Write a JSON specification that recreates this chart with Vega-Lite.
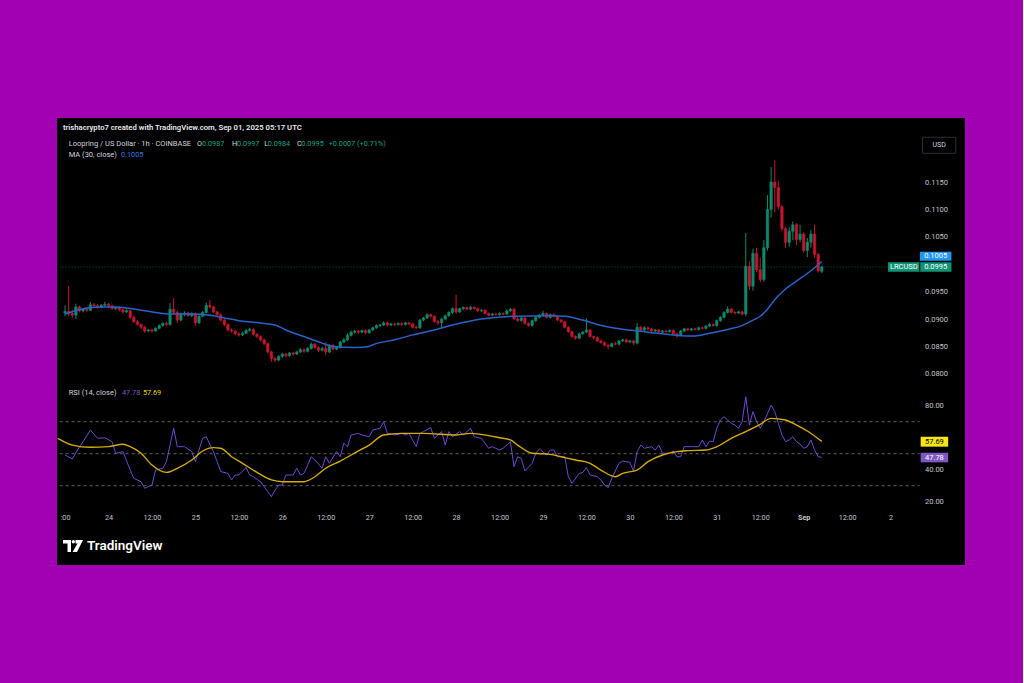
{
"$schema": "https://vega.github.io/schema/vega-lite/v6.json",
"background": "#a100b3",
"padding": {"left": 54, "top": 118, "right": 58, "bottom": 118},
"spacing": 0,
"config": {"view": {"fill": "#000000", "stroke": null}, "font": "Roboto", "scale": {"continuousPadding": 0}},
"datasets": {
"c": [
{"t":-12,"o":0.0911,"h":0.0925,"l":0.0905,"c":0.0914},
{"t":-11,"o":0.0914,"h":0.0960,"l":0.0905,"c":0.0910},
{"t":-10,"o":0.0910,"h":0.0916,"l":0.0902,"c":0.0907},
{"t":-9,"o":0.0907,"h":0.0928,"l":0.0900,"c":0.0922},
{"t":-8,"o":0.0922,"h":0.0924,"l":0.0912,"c":0.0915},
{"t":-7,"o":0.0915,"h":0.0920,"l":0.0912,"c":0.0918},
{"t":-6,"o":0.0918,"h":0.0921,"l":0.0913,"c":0.0916},
{"t":-5,"o":0.0916,"h":0.0931,"l":0.0915,"c":0.0926},
{"t":-4,"o":0.0926,"h":0.0929,"l":0.0921,"c":0.0924},
{"t":-3,"o":0.0924,"h":0.0927,"l":0.0919,"c":0.0922},
{"t":-2,"o":0.0922,"h":0.0927,"l":0.0920,"c":0.0925},
{"t":-1,"o":0.0925,"h":0.0931,"l":0.0922,"c":0.0927},
{"t":0,"o":0.0927,"h":0.0929,"l":0.0921,"c":0.0924},
{"t":1,"o":0.0924,"h":0.0926,"l":0.0917,"c":0.0919},
{"t":2,"o":0.0919,"h":0.0923,"l":0.0916,"c":0.0921},
{"t":3,"o":0.0921,"h":0.0923,"l":0.0914,"c":0.0917},
{"t":4,"o":0.0917,"h":0.0919,"l":0.0910,"c":0.0913},
{"t":5,"o":0.0913,"h":0.0918,"l":0.0911,"c":0.0915},
{"t":6,"o":0.0915,"h":0.0917,"l":0.0900,"c":0.0903},
{"t":7,"o":0.0903,"h":0.0905,"l":0.0893,"c":0.0895},
{"t":8,"o":0.0895,"h":0.0898,"l":0.0888,"c":0.0890},
{"t":9,"o":0.0890,"h":0.0892,"l":0.0882,"c":0.0885},
{"t":10,"o":0.0885,"h":0.0887,"l":0.0875,"c":0.0878},
{"t":11,"o":0.0878,"h":0.0882,"l":0.0876,"c":0.0880},
{"t":12,"o":0.0880,"h":0.0882,"l":0.0875,"c":0.0878},
{"t":13,"o":0.0878,"h":0.0885,"l":0.0877,"c":0.0883},
{"t":14,"o":0.0883,"h":0.0890,"l":0.0881,"c":0.0888},
{"t":15,"o":0.0888,"h":0.0894,"l":0.0886,"c":0.0892},
{"t":16,"o":0.0892,"h":0.0895,"l":0.0887,"c":0.0890},
{"t":17,"o":0.0890,"h":0.0929,"l":0.0888,"c":0.0918},
{"t":18,"o":0.0918,"h":0.0938,"l":0.0908,"c":0.0912},
{"t":19,"o":0.0912,"h":0.0915,"l":0.0893,"c":0.0898},
{"t":20,"o":0.0898,"h":0.0912,"l":0.0896,"c":0.0909},
{"t":21,"o":0.0909,"h":0.0914,"l":0.0905,"c":0.0911},
{"t":22,"o":0.0911,"h":0.0913,"l":0.0904,"c":0.0906},
{"t":23,"o":0.0906,"h":0.0912,"l":0.0903,"c":0.0910},
{"t":24,"o":0.0910,"h":0.0912,"l":0.0888,"c":0.0893},
{"t":25,"o":0.0893,"h":0.0907,"l":0.0891,"c":0.0905},
{"t":26,"o":0.0905,"h":0.0914,"l":0.0903,"c":0.0912},
{"t":27,"o":0.0912,"h":0.0930,"l":0.0910,"c":0.0925},
{"t":28,"o":0.0925,"h":0.0935,"l":0.0919,"c":0.0922},
{"t":29,"o":0.0922,"h":0.0924,"l":0.0911,"c":0.0913},
{"t":30,"o":0.0913,"h":0.0915,"l":0.0905,"c":0.0908},
{"t":31,"o":0.0908,"h":0.0910,"l":0.0896,"c":0.0898},
{"t":32,"o":0.0898,"h":0.0900,"l":0.0887,"c":0.0890},
{"t":33,"o":0.0890,"h":0.0892,"l":0.0877,"c":0.0880},
{"t":34,"o":0.0880,"h":0.0883,"l":0.0875,"c":0.0878},
{"t":35,"o":0.0878,"h":0.0880,"l":0.0870,"c":0.0873},
{"t":36,"o":0.0873,"h":0.0876,"l":0.0868,"c":0.0871},
{"t":37,"o":0.0871,"h":0.0877,"l":0.0869,"c":0.0874},
{"t":38,"o":0.0874,"h":0.0882,"l":0.0872,"c":0.0879},
{"t":39,"o":0.0879,"h":0.0884,"l":0.0877,"c":0.0881},
{"t":40,"o":0.0881,"h":0.0883,"l":0.0870,"c":0.0872},
{"t":41,"o":0.0872,"h":0.0874,"l":0.0865,"c":0.0868},
{"t":42,"o":0.0868,"h":0.0870,"l":0.0859,"c":0.0862},
{"t":43,"o":0.0862,"h":0.0864,"l":0.0852,"c":0.0855},
{"t":44,"o":0.0855,"h":0.0857,"l":0.0837,"c":0.0840},
{"t":45,"o":0.0840,"h":0.0842,"l":0.0822,"c":0.0828},
{"t":46,"o":0.0828,"h":0.0831,"l":0.0821,"c":0.0825},
{"t":47,"o":0.0825,"h":0.0834,"l":0.0823,"c":0.0832},
{"t":48,"o":0.0832,"h":0.0838,"l":0.0829,"c":0.0836},
{"t":49,"o":0.0836,"h":0.0838,"l":0.0830,"c":0.0833},
{"t":50,"o":0.0833,"h":0.0840,"l":0.0831,"c":0.0838},
{"t":51,"o":0.0838,"h":0.0840,"l":0.0833,"c":0.0836},
{"t":52,"o":0.0836,"h":0.0842,"l":0.0834,"c":0.0840},
{"t":53,"o":0.0840,"h":0.0847,"l":0.0838,"c":0.0844},
{"t":54,"o":0.0844,"h":0.0846,"l":0.0838,"c":0.0841},
{"t":55,"o":0.0841,"h":0.0849,"l":0.0839,"c":0.0846},
{"t":56,"o":0.0846,"h":0.0857,"l":0.0844,"c":0.0854},
{"t":57,"o":0.0854,"h":0.0856,"l":0.0846,"c":0.0848},
{"t":58,"o":0.0848,"h":0.0850,"l":0.0840,"c":0.0843},
{"t":59,"o":0.0843,"h":0.0849,"l":0.0841,"c":0.0846},
{"t":60,"o":0.0846,"h":0.0858,"l":0.0834,"c":0.0840},
{"t":61,"o":0.0840,"h":0.0854,"l":0.0838,"c":0.0852},
{"t":62,"o":0.0852,"h":0.0854,"l":0.0843,"c":0.0845},
{"t":63,"o":0.0845,"h":0.0851,"l":0.0843,"c":0.0848},
{"t":64,"o":0.0848,"h":0.0860,"l":0.0846,"c":0.0858},
{"t":65,"o":0.0858,"h":0.0865,"l":0.0856,"c":0.0862},
{"t":66,"o":0.0862,"h":0.0874,"l":0.0860,"c":0.0870},
{"t":67,"o":0.0870,"h":0.0879,"l":0.0868,"c":0.0876},
{"t":68,"o":0.0876,"h":0.0880,"l":0.0873,"c":0.0878},
{"t":69,"o":0.0878,"h":0.0880,"l":0.0873,"c":0.0876},
{"t":70,"o":0.0876,"h":0.0881,"l":0.0874,"c":0.0879},
{"t":71,"o":0.0879,"h":0.0881,"l":0.0872,"c":0.0875},
{"t":72,"o":0.0875,"h":0.0882,"l":0.0873,"c":0.0880},
{"t":73,"o":0.0880,"h":0.0886,"l":0.0878,"c":0.0884},
{"t":74,"o":0.0884,"h":0.0890,"l":0.0882,"c":0.0888},
{"t":75,"o":0.0888,"h":0.0891,"l":0.0885,"c":0.0889},
{"t":76,"o":0.0889,"h":0.0896,"l":0.0887,"c":0.0893},
{"t":77,"o":0.0893,"h":0.0895,"l":0.0886,"c":0.0889},
{"t":78,"o":0.0889,"h":0.0893,"l":0.0887,"c":0.0891},
{"t":79,"o":0.0891,"h":0.0893,"l":0.0887,"c":0.0890},
{"t":80,"o":0.0890,"h":0.0894,"l":0.0888,"c":0.0892},
{"t":81,"o":0.0892,"h":0.0894,"l":0.0887,"c":0.0890},
{"t":82,"o":0.0890,"h":0.0895,"l":0.0888,"c":0.0893},
{"t":83,"o":0.0893,"h":0.0895,"l":0.0889,"c":0.0891},
{"t":84,"o":0.0891,"h":0.0893,"l":0.0883,"c":0.0885},
{"t":85,"o":0.0885,"h":0.0888,"l":0.0882,"c":0.0884},
{"t":86,"o":0.0884,"h":0.0900,"l":0.0882,"c":0.0898},
{"t":87,"o":0.0898,"h":0.0904,"l":0.0896,"c":0.0902},
{"t":88,"o":0.0902,"h":0.0910,"l":0.0900,"c":0.0908},
{"t":89,"o":0.0908,"h":0.0910,"l":0.0903,"c":0.0905},
{"t":90,"o":0.0905,"h":0.0907,"l":0.0893,"c":0.0895},
{"t":91,"o":0.0895,"h":0.0898,"l":0.0889,"c":0.0893},
{"t":92,"o":0.0893,"h":0.0902,"l":0.0883,"c":0.0900},
{"t":93,"o":0.0900,"h":0.0908,"l":0.0898,"c":0.0906},
{"t":94,"o":0.0906,"h":0.0914,"l":0.0904,"c":0.0912},
{"t":95,"o":0.0912,"h":0.0921,"l":0.0909,"c":0.0919},
{"t":96,"o":0.0919,"h":0.0944,"l":0.0910,"c":0.0913},
{"t":97,"o":0.0913,"h":0.0921,"l":0.0911,"c":0.0919},
{"t":98,"o":0.0919,"h":0.0923,"l":0.0916,"c":0.0921},
{"t":99,"o":0.0921,"h":0.0923,"l":0.0916,"c":0.0918},
{"t":100,"o":0.0918,"h":0.0924,"l":0.0916,"c":0.0921},
{"t":101,"o":0.0921,"h":0.0923,"l":0.0917,"c":0.0919},
{"t":102,"o":0.0919,"h":0.0921,"l":0.0913,"c":0.0915},
{"t":103,"o":0.0915,"h":0.0918,"l":0.0913,"c":0.0916},
{"t":104,"o":0.0916,"h":0.0918,"l":0.0908,"c":0.0910},
{"t":105,"o":0.0910,"h":0.0912,"l":0.0905,"c":0.0907},
{"t":106,"o":0.0907,"h":0.0911,"l":0.0905,"c":0.0909},
{"t":107,"o":0.0909,"h":0.0911,"l":0.0906,"c":0.0908},
{"t":108,"o":0.0908,"h":0.0912,"l":0.0906,"c":0.0910},
{"t":109,"o":0.0910,"h":0.0912,"l":0.0907,"c":0.0909},
{"t":110,"o":0.0909,"h":0.0917,"l":0.0907,"c":0.0915},
{"t":111,"o":0.0915,"h":0.0920,"l":0.0913,"c":0.0918},
{"t":112,"o":0.0918,"h":0.0920,"l":0.0898,"c":0.0900},
{"t":113,"o":0.0900,"h":0.0903,"l":0.0895,"c":0.0897},
{"t":114,"o":0.0897,"h":0.0904,"l":0.0895,"c":0.0902},
{"t":115,"o":0.0902,"h":0.0904,"l":0.0890,"c":0.0892},
{"t":116,"o":0.0892,"h":0.0894,"l":0.0886,"c":0.0888},
{"t":117,"o":0.0888,"h":0.0899,"l":0.0886,"c":0.0897},
{"t":118,"o":0.0897,"h":0.0905,"l":0.0895,"c":0.0903},
{"t":119,"o":0.0903,"h":0.0909,"l":0.0901,"c":0.0907},
{"t":120,"o":0.0907,"h":0.0915,"l":0.0905,"c":0.0910},
{"t":121,"o":0.0910,"h":0.0912,"l":0.0901,"c":0.0903},
{"t":122,"o":0.0903,"h":0.0910,"l":0.0901,"c":0.0908},
{"t":123,"o":0.0908,"h":0.0910,"l":0.0903,"c":0.0905},
{"t":124,"o":0.0905,"h":0.0907,"l":0.0896,"c":0.0898},
{"t":125,"o":0.0898,"h":0.0900,"l":0.0893,"c":0.0895},
{"t":126,"o":0.0895,"h":0.0897,"l":0.0883,"c":0.0885},
{"t":127,"o":0.0885,"h":0.0887,"l":0.0875,"c":0.0877},
{"t":128,"o":0.0877,"h":0.0879,"l":0.0866,"c":0.0868},
{"t":129,"o":0.0868,"h":0.0870,"l":0.0862,"c":0.0865},
{"t":130,"o":0.0865,"h":0.0875,"l":0.0863,"c":0.0873},
{"t":131,"o":0.0873,"h":0.0878,"l":0.0871,"c":0.0876},
{"t":132,"o":0.0876,"h":0.0901,"l":0.0874,"c":0.0880},
{"t":133,"o":0.0880,"h":0.0882,"l":0.0866,"c":0.0868},
{"t":134,"o":0.0868,"h":0.0870,"l":0.0863,"c":0.0866},
{"t":135,"o":0.0866,"h":0.0868,"l":0.0858,"c":0.0860},
{"t":136,"o":0.0860,"h":0.0862,"l":0.0855,"c":0.0857},
{"t":137,"o":0.0857,"h":0.0859,"l":0.0850,"c":0.0852},
{"t":138,"o":0.0852,"h":0.0854,"l":0.0845,"c":0.0850},
{"t":139,"o":0.0850,"h":0.0857,"l":0.0848,"c":0.0855},
{"t":140,"o":0.0855,"h":0.0858,"l":0.0852,"c":0.0854},
{"t":141,"o":0.0854,"h":0.0862,"l":0.0852,"c":0.0860},
{"t":142,"o":0.0860,"h":0.0864,"l":0.0858,"c":0.0862},
{"t":143,"o":0.0862,"h":0.0864,"l":0.0856,"c":0.0858},
{"t":144,"o":0.0858,"h":0.0862,"l":0.0856,"c":0.0860},
{"t":145,"o":0.0860,"h":0.0862,"l":0.0853,"c":0.0856},
{"t":146,"o":0.0856,"h":0.0893,"l":0.0854,"c":0.0885},
{"t":147,"o":0.0885,"h":0.0888,"l":0.0878,"c":0.0880},
{"t":148,"o":0.0880,"h":0.0887,"l":0.0878,"c":0.0884},
{"t":149,"o":0.0884,"h":0.0886,"l":0.0879,"c":0.0882},
{"t":150,"o":0.0882,"h":0.0884,"l":0.0876,"c":0.0878},
{"t":151,"o":0.0878,"h":0.0882,"l":0.0876,"c":0.0880},
{"t":152,"o":0.0880,"h":0.0882,"l":0.0874,"c":0.0876},
{"t":153,"o":0.0876,"h":0.0880,"l":0.0874,"c":0.0878},
{"t":154,"o":0.0878,"h":0.0880,"l":0.0875,"c":0.0877},
{"t":155,"o":0.0877,"h":0.0881,"l":0.0875,"c":0.0879},
{"t":156,"o":0.0879,"h":0.0881,"l":0.0871,"c":0.0873},
{"t":157,"o":0.0873,"h":0.0875,"l":0.0866,"c":0.0871},
{"t":158,"o":0.0871,"h":0.0880,"l":0.0869,"c":0.0878},
{"t":159,"o":0.0878,"h":0.0884,"l":0.0876,"c":0.0882},
{"t":160,"o":0.0882,"h":0.0884,"l":0.0878,"c":0.0880},
{"t":161,"o":0.0880,"h":0.0884,"l":0.0878,"c":0.0882},
{"t":162,"o":0.0882,"h":0.0884,"l":0.0879,"c":0.0881},
{"t":163,"o":0.0881,"h":0.0886,"l":0.0879,"c":0.0884},
{"t":164,"o":0.0884,"h":0.0886,"l":0.0881,"c":0.0883},
{"t":165,"o":0.0883,"h":0.0889,"l":0.0881,"c":0.0887},
{"t":166,"o":0.0887,"h":0.0893,"l":0.0885,"c":0.0890},
{"t":167,"o":0.0890,"h":0.0892,"l":0.0886,"c":0.0888},
{"t":168,"o":0.0888,"h":0.0899,"l":0.0886,"c":0.0897},
{"t":169,"o":0.0897,"h":0.0905,"l":0.0895,"c":0.0903},
{"t":170,"o":0.0903,"h":0.0914,"l":0.0901,"c":0.0912},
{"t":171,"o":0.0912,"h":0.0923,"l":0.0910,"c":0.0918},
{"t":172,"o":0.0918,"h":0.0920,"l":0.0910,"c":0.0912},
{"t":173,"o":0.0912,"h":0.0914,"l":0.0908,"c":0.0911},
{"t":174,"o":0.0911,"h":0.0915,"l":0.0909,"c":0.0913},
{"t":175,"o":0.0913,"h":0.0915,"l":0.0907,"c":0.0909},
{"t":176,"o":0.0909,"h":0.1057,"l":0.0905,"c":0.0996},
{"t":177,"o":0.0996,"h":0.1005,"l":0.0953,"c":0.0960},
{"t":178,"o":0.0960,"h":0.1028,"l":0.0952,"c":0.1020},
{"t":179,"o":0.1020,"h":0.1030,"l":0.0985,"c":0.0990},
{"t":180,"o":0.0990,"h":0.1012,"l":0.0967,"c":0.0972},
{"t":181,"o":0.0972,"h":0.1044,"l":0.0968,"c":0.1030},
{"t":182,"o":0.1030,"h":0.1126,"l":0.1025,"c":0.1100},
{"t":183,"o":0.1100,"h":0.1177,"l":0.1085,"c":0.1150},
{"t":184,"o":0.1150,"h":0.1190,"l":0.1095,"c":0.1140},
{"t":185,"o":0.1140,"h":0.1152,"l":0.1100,"c":0.1105},
{"t":186,"o":0.1105,"h":0.1108,"l":0.1060,"c":0.1065},
{"t":187,"o":0.1065,"h":0.1068,"l":0.1030,"c":0.1040},
{"t":188,"o":0.1040,"h":0.1068,"l":0.1032,"c":0.1060},
{"t":189,"o":0.1060,"h":0.1078,"l":0.1044,"c":0.1072},
{"t":190,"o":0.1072,"h":0.1075,"l":0.1035,"c":0.1045},
{"t":191,"o":0.1045,"h":0.1072,"l":0.1040,"c":0.1055},
{"t":192,"o":0.1055,"h":0.1058,"l":0.1021,"c":0.1025},
{"t":193,"o":0.1025,"h":0.1048,"l":0.1013,"c":0.1040},
{"t":194,"o":0.1040,"h":0.1062,"l":0.1030,"c":0.1055},
{"t":195,"o":0.1055,"h":0.1072,"l":0.1012,"c":0.1018},
{"t":196,"o":0.1018,"h":0.1020,"l":0.0985,"c":0.0988},
{"t":197,"o":0.0987,"h":0.0997,"l":0.0984,"c":0.0995}
],
"ma": [
{"t":-12,"v":0.0909},{"t":-5,"v":0.0921},{"t":-1,"v":0.0922},{"t":2,"v":0.0922},{"t":6,"v":0.0919},{"t":10,"v":0.0915},{"t":13,"v":0.0912},{"t":17,"v":0.0909},{"t":22,"v":0.0909},{"t":28,"v":0.0907},{"t":32,"v":0.0902},{"t":36,"v":0.0897},{"t":40,"v":0.0894},{"t":46,"v":0.0889},{"t":49,"v":0.0880},{"t":54,"v":0.0868},{"t":59,"v":0.0856},{"t":62,"v":0.0850},{"t":68,"v":0.0848},{"t":72,"v":0.0850},{"t":73,"v":0.0853},{"t":79,"v":0.0862},{"t":84,"v":0.0871},{"t":90,"v":0.0880},{"t":95,"v":0.0889},{"t":103,"v":0.0900},{"t":112,"v":0.0905},{"t":122,"v":0.0906},{"t":126,"v":0.0905},{"t":131,"v":0.0898},{"t":135,"v":0.0890},{"t":140,"v":0.0883},{"t":145,"v":0.0879},{"t":149,"v":0.0876},{"t":157,"v":0.0870},{"t":162,"v":0.0869},{"t":166,"v":0.0874},{"t":171,"v":0.0881},{"t":175,"v":0.0888},{"t":178,"v":0.0898},{"t":180,"v":0.0905},{"t":182,"v":0.0918},{"t":184,"v":0.0935},{"t":186.5,"v":0.0952},{"t":190,"v":0.0969},{"t":194,"v":0.0988},{"t":197,"v":0.1005}
],
"rsi": [
{"t":-12,"v":49.2},{"t":-10,"v":46.7},{"t":-8,"v":54.4},{"t":-7,"v":57.5},{"t":-5,"v":64.8},{"t":-3,"v":59.6},{"t":-1,"v":60.0},{"t":1,"v":57.5},{"t":2,"v":50.2},{"t":4,"v":51.3},{"t":6,"v":39.8},{"t":7,"v":34.6},{"t":9,"v":32.5},{"t":10,"v":28.4},{"t":12,"v":30.4},{"t":13,"v":39.8},{"t":15,"v":40.9},{"t":16,"v":45.0},{"t":18,"v":65.9},{"t":19,"v":54.4},{"t":21,"v":54.4},{"t":23,"v":51.3},{"t":24,"v":45.0},{"t":25,"v":52.3},{"t":26,"v":59.6},{"t":27,"v":60.6},{"t":29,"v":51.3},{"t":30,"v":45.0},{"t":31,"v":38.8},{"t":33,"v":37.7},{"t":34,"v":33.6},{"t":35,"v":36.7},{"t":36,"v":36.7},{"t":38,"v":41.3},{"t":39,"v":36.7},{"t":40,"v":35.6},{"t":42,"v":32.5},{"t":44,"v":26.3},{"t":45,"v":23.1},{"t":46,"v":27.3},{"t":47,"v":30.4},{"t":48,"v":30.4},{"t":49,"v":36.7},{"t":51,"v":36.7},{"t":52,"v":40.9},{"t":53,"v":36.7},{"t":54,"v":37.7},{"t":56,"v":48.1},{"t":57,"v":46.1},{"t":59,"v":40.9},{"t":60,"v":48.1},{"t":61,"v":44.0},{"t":63,"v":51.3},{"t":64,"v":48.1},{"t":65,"v":56.5},{"t":66,"v":54.4},{"t":67,"v":61.7},{"t":69,"v":62.7},{"t":70,"v":61.7},{"t":72,"v":60.6},{"t":73,"v":64.8},{"t":75,"v":65.9},{"t":76,"v":70.0},{"t":77,"v":62.7},{"t":79,"v":61.7},{"t":81,"v":62.7},{"t":82,"v":61.7},{"t":83,"v":62.7},{"t":85,"v":54.4},{"t":86,"v":62.7},{"t":87,"v":63.8},{"t":89,"v":66.3},{"t":90,"v":59.6},{"t":92,"v":63.8},{"t":93,"v":55.4},{"t":94,"v":63.8},{"t":95,"v":60.6},{"t":97,"v":63.8},{"t":98,"v":61.7},{"t":100,"v":65.9},{"t":101,"v":60.6},{"t":103,"v":59.6},{"t":105,"v":53.4},{"t":106,"v":54.4},{"t":108,"v":52.3},{"t":109,"v":53.4},{"t":111,"v":57.5},{"t":112,"v":41.9},{"t":113,"v":48.1},{"t":114,"v":47.1},{"t":115,"v":39.2},{"t":117,"v":44.0},{"t":118,"v":50.3},{"t":119,"v":53.0},{"t":121,"v":49.2},{"t":122,"v":52.3},{"t":123,"v":52.3},{"t":124,"v":48.1},{"t":126,"v":48.1},{"t":127,"v":35.6},{"t":128,"v":31.5},{"t":130,"v":37.7},{"t":131,"v":38.3},{"t":132,"v":41.3},{"t":133,"v":36.7},{"t":135,"v":35.6},{"t":136,"v":33.6},{"t":137,"v":30.4},{"t":138,"v":28.8},{"t":139,"v":34.6},{"t":141,"v":44.0},{"t":142,"v":45.4},{"t":144,"v":44.6},{"t":145,"v":39.2},{"t":146,"v":51.3},{"t":147,"v":55.4},{"t":148,"v":53.4},{"t":150,"v":54.4},{"t":151,"v":52.3},{"t":152,"v":55.4},{"t":153,"v":50.3},{"t":155,"v":50.3},{"t":156,"v":51.7},{"t":157,"v":48.1},{"t":158,"v":48.1},{"t":159,"v":54.4},{"t":161,"v":54.4},{"t":163,"v":54.4},{"t":164,"v":58.6},{"t":165,"v":54.4},{"t":166,"v":57.9},{"t":167,"v":57.5},{"t":168,"v":65.9},{"t":169,"v":71.1},{"t":170,"v":73.1},{"t":172,"v":69.0},{"t":173,"v":67.9},{"t":174,"v":65.9},{"t":175,"v":70.0},{"t":176,"v":85.6},{"t":177,"v":67.9},{"t":178,"v":76.3},{"t":179,"v":70.0},{"t":180,"v":65.9},{"t":181,"v":70.0},{"t":182,"v":75.0},{"t":183,"v":80.4},{"t":184,"v":76.3},{"t":185,"v":69.0},{"t":186,"v":61.7},{"t":187,"v":57.5},{"t":188,"v":58.6},{"t":189,"v":60.6},{"t":190,"v":57.5},{"t":191,"v":56.0},{"t":192,"v":53.4},{"t":193,"v":54.4},{"t":194,"v":58.6},{"t":195,"v":52.3},{"t":196,"v":48.1},{"t":197,"v":47.78}
],
"rsima": [
{"t":-14,"v":59.6},{"t":-10,"v":55.4},{"t":-5,"v":54.0},{"t":0,"v":54.4},{"t":4,"v":55.9},{"t":6,"v":54.4},{"t":9,"v":50.3},{"t":12,"v":42.9},{"t":16,"v":38.3},{"t":19,"v":40.9},{"t":23,"v":46.1},{"t":26,"v":51.7},{"t":29,"v":53.8},{"t":31,"v":53.4},{"t":34,"v":48.1},{"t":37,"v":44.0},{"t":41,"v":38.3},{"t":45,"v":33.6},{"t":48,"v":32.5},{"t":54,"v":32.5},{"t":57,"v":35.6},{"t":60,"v":40.9},{"t":64,"v":45.4},{"t":69,"v":51.7},{"t":72,"v":55.4},{"t":76,"v":61.7},{"t":81,"v":62.7},{"t":87,"v":62.7},{"t":96,"v":61.7},{"t":100,"v":62.7},{"t":105,"v":61.3},{"t":108,"v":60.0},{"t":111,"v":58.6},{"t":113,"v":55.4},{"t":117,"v":50.3},{"t":122,"v":49.6},{"t":125,"v":48.1},{"t":129,"v":46.1},{"t":133,"v":44.0},{"t":136,"v":39.8},{"t":140,"v":35.6},{"t":142,"v":37.7},{"t":146,"v":39.8},{"t":149,"v":45.0},{"t":153,"v":49.2},{"t":157,"v":51.3},{"t":160,"v":51.9},{"t":165,"v":52.3},{"t":168,"v":54.4},{"t":172,"v":59.6},{"t":176,"v":63.8},{"t":180,"v":68.4},{"t":183,"v":72.1},{"t":187,"v":71.1},{"t":190,"v":67.9},{"t":193,"v":64.2},{"t":197,"v":57.69}
]
},
"vconcat": [
{
"width": 908, "height": 267,
"layer": [
{"data": {"name": "c"}, "mark": {"type": "rule", "strokeWidth": 1},
 "encoding": {
  "x": {"field": "t", "type": "quantitative", "scale": {"domain": [-14.22, 236.55], "nice": false, "zero": false, "padding": 0}, "axis": null},
  "y": {"field": "l", "type": "quantitative", "scale": {"domain": [0.077956, 0.12668], "nice": false, "zero": false},
        "axis": {"orient": "right", "offset": -48, "values": [0.08, 0.085, 0.09, 0.095, 0.105, 0.11, 0.115], "format": ".4f", "domain": false, "ticks": false, "grid": false, "labelPadding": 7.5, "labelColor": "#c3c6cd", "labelFontSize": 7.5, "labelFont": "Roboto", "title": null, "labelOverlap": false, "zindex": 1}},
  "y2": {"field": "h"},
  "color": {"condition": {"test": "datum.c >= datum.o", "value": "#0e8a6c"}, "value": "#c81631"}
 }},
{"data": {"name": "c"}, "mark": {"type": "bar", "size": 2.4, "strokeWidth": 0.6},
 "encoding": {
  "x": {"field": "t", "type": "quantitative", "scale": {"domain": [-14.22, 236.55], "nice": false, "zero": false, "padding": 0}, "axis": null},
  "y": {"field": "o", "type": "quantitative", "scale": {"domain": [0.077956, 0.12668], "nice": false, "zero": false}},
  "y2": {"field": "c"},
  "color": {"condition": {"test": "datum.c >= datum.o", "value": "#0e8a6c"}, "value": "#c81631"},
  "stroke": {"condition": {"test": "datum.c >= datum.o", "value": "#0e8a6c"}, "value": "#c81631"}
 }},
{"data": {"name": "ma"}, "mark": {"type": "line", "color": "#2a62c9", "strokeWidth": 1.5, "interpolate": "monotone"},
 "encoding": {
  "x": {"field": "t", "type": "quantitative", "scale": {"domain": [-14.22, 236.55], "nice": false, "zero": false, "padding": 0}, "axis": null},
  "y": {"field": "v", "type": "quantitative", "scale": {"domain": [0.077956, 0.12668], "nice": false, "zero": false}}
 }},
{"data": {"values": [{}]}, "mark": {"type": "rule", "color": "#0e8a6c", "strokeDash": [1, 2], "strokeWidth": 1, "opacity": 0.7},
 "encoding": {
  "x": {"datum": -13.5, "type": "quantitative", "scale": {"domain": [-14.22, 236.55], "nice": false, "zero": false, "padding": 0}, "axis": null},
  "x2": {"datum": 215.3},
  "y": {"datum": 0.0995, "type": "quantitative", "scale": {"domain": [0.077956, 0.12668], "nice": false, "zero": false}}
 }},
{"data": {"values": [{}]}, "mark": {"type": "rect", "color": "#2196f3"},
 "encoding": {
  "x": {"datum": 224.1, "type": "quantitative", "scale": {"domain": [-14.22, 236.55], "nice": false, "zero": false, "padding": 0}, "axis": null},
  "x2": {"datum": 232.8},
  "y": {"datum": 0.10228, "type": "quantitative", "scale": {"domain": [0.077956, 0.12668], "nice": false, "zero": false}},
  "y2": {"datum": 0.10064}
 }},
{"data": {"values": [{}]}, "mark": {"type": "rect", "color": "#0e9474"},
 "encoding": {
  "x": {"datum": 215.3, "type": "quantitative", "scale": {"domain": [-14.22, 236.55], "nice": false, "zero": false, "padding": 0}, "axis": null},
  "x2": {"datum": 232.8},
  "y": {"datum": 0.10035, "type": "quantitative", "scale": {"domain": [0.077956, 0.12668], "nice": false, "zero": false}},
  "y2": {"datum": 0.09863}
 }},
{"data": {"values": [{}]}, "mark": {"type": "rule", "color": "#000000", "strokeWidth": 1},
 "encoding": {
  "x": {"datum": 224.05, "type": "quantitative", "scale": {"domain": [-14.22, 236.55], "nice": false, "zero": false, "padding": 0}, "axis": null},
  "y": {"datum": 0.10035, "type": "quantitative", "scale": {"domain": [0.077956, 0.12668], "nice": false, "zero": false}},
  "y2": {"datum": 0.09863}
 }},
{"data": {"values": [{}]}, "mark": {"type": "rect", "fill": "#000000", "stroke": "#2a2e39", "strokeWidth": 1},
 "encoding": {
  "x": {"datum": 224.8, "type": "quantitative", "scale": {"domain": [-14.22, 236.55], "nice": false, "zero": false, "padding": 0}, "axis": null},
  "x2": {"datum": 234.0},
  "y": {"datum": 0.12316, "type": "quantitative", "scale": {"domain": [0.077956, 0.12668], "nice": false, "zero": false}},
  "y2": {"datum": 0.12024}
 }},
{"data": {"values": [{}]}, "mark": {"type": "text", "text": "USD", "align": "center", "baseline": "middle", "fontSize": 7, "color": "#d1d4dc"},
 "encoding": {
  "x": {"datum": 229.4, "type": "quantitative", "scale": {"domain": [-14.22, 236.55], "nice": false, "zero": false, "padding": 0}, "axis": null},
  "y": {"datum": 0.1217, "type": "quantitative", "scale": {"domain": [0.077956, 0.12668], "nice": false, "zero": false}}
 }},
{"data": {"values": [{}]}, "mark": {"type": "text", "text": "0.1005", "align": "center", "baseline": "middle", "fontSize": 7.5, "color": "#ffffff"},
 "encoding": {
  "x": {"datum": 228.45, "type": "quantitative", "scale": {"domain": [-14.22, 236.55], "nice": false, "zero": false, "padding": 0}, "axis": null},
  "y": {"datum": 0.10146, "type": "quantitative", "scale": {"domain": [0.077956, 0.12668], "nice": false, "zero": false}}
 }},
{"data": {"values": [{}]}, "mark": {"type": "text", "text": "0.0995", "align": "center", "baseline": "middle", "fontSize": 7.5, "color": "#ffffff"},
 "encoding": {
  "x": {"datum": 228.45, "type": "quantitative", "scale": {"domain": [-14.22, 236.55], "nice": false, "zero": false, "padding": 0}, "axis": null},
  "y": {"datum": 0.09949, "type": "quantitative", "scale": {"domain": [0.077956, 0.12668], "nice": false, "zero": false}}
 }},
{"data": {"values": [{}]}, "mark": {"type": "text", "text": "LRCUSD", "align": "center", "baseline": "middle", "fontSize": 7.5, "color": "#ffffff"},
 "encoding": {
  "x": {"datum": 219.65, "type": "quantitative", "scale": {"domain": [-14.22, 236.55], "nice": false, "zero": false, "padding": 0}, "axis": null},
  "y": {"datum": 0.09949, "type": "quantitative", "scale": {"domain": [0.077956, 0.12668], "nice": false, "zero": false}}
 }},
{"data": {"values": [{}]}, "mark": {"type": "text", "text": "trishacrypto7 created with TradingView.com, Sep 01, 2025 05:17 UTC", "align": "left", "baseline": "middle", "fontSize": 7.7, "fontWeight": 600, "color": "#e6e8ee"},
 "encoding": {
  "x": {"datum": -12.57, "type": "quantitative", "scale": {"domain": [-14.22, 236.55], "nice": false, "zero": false, "padding": 0}, "axis": null},
  "y": {"datum": 0.12486, "type": "quantitative", "scale": {"domain": [0.077956, 0.12668], "nice": false, "zero": false}}
 }},
{"data": {"values": [{}]}, "mark": {"type": "text", "text": "Loopring / US Dollar · 1h · COINBASE", "align": "left", "baseline": "middle", "fontSize": 7.5, "color": "#d1d4dc"},
 "encoding": {
  "x": {"datum": -10.99, "type": "quantitative", "scale": {"domain": [-14.22, 236.55], "nice": false, "zero": false, "padding": 0}, "axis": null},
  "y": {"datum": 0.12194, "type": "quantitative", "scale": {"domain": [0.077956, 0.12668], "nice": false, "zero": false}}
 }},
{"data": {"values": [{}]}, "mark": {"type": "text", "text": "O", "align": "left", "baseline": "middle", "fontSize": 7.3, "color": "#d1d4dc"},
 "encoding": {
  "x": {"datum": 24.44, "type": "quantitative", "scale": {"domain": [-14.22, 236.55], "nice": false, "zero": false, "padding": 0}, "axis": null},
  "y": {"datum": 0.12194, "type": "quantitative", "scale": {"domain": [0.077956, 0.12668], "nice": false, "zero": false}}
 }},
{"data": {"values": [{}]}, "mark": {"type": "text", "text": "0.0987", "align": "left", "baseline": "middle", "fontSize": 7.3, "color": "#14a383"},
 "encoding": {
  "x": {"datum": 25.82, "type": "quantitative", "scale": {"domain": [-14.22, 236.55], "nice": false, "zero": false, "padding": 0}, "axis": null},
  "y": {"datum": 0.12194, "type": "quantitative", "scale": {"domain": [0.077956, 0.12668], "nice": false, "zero": false}}
 }},
{"data": {"values": [{}]}, "mark": {"type": "text", "text": "H", "align": "left", "baseline": "middle", "fontSize": 7.3, "color": "#d1d4dc"},
 "encoding": {
  "x": {"datum": 34.1, "type": "quantitative", "scale": {"domain": [-14.22, 236.55], "nice": false, "zero": false, "padding": 0}, "axis": null},
  "y": {"datum": 0.12194, "type": "quantitative", "scale": {"domain": [0.077956, 0.12668], "nice": false, "zero": false}}
 }},
{"data": {"values": [{}]}, "mark": {"type": "text", "text": "0.0997", "align": "left", "baseline": "middle", "fontSize": 7.3, "color": "#14a383"},
 "encoding": {
  "x": {"datum": 35.5, "type": "quantitative", "scale": {"domain": [-14.22, 236.55], "nice": false, "zero": false, "padding": 0}, "axis": null},
  "y": {"datum": 0.12194, "type": "quantitative", "scale": {"domain": [0.077956, 0.12668], "nice": false, "zero": false}}
 }},
{"data": {"values": [{}]}, "mark": {"type": "text", "text": "L", "align": "left", "baseline": "middle", "fontSize": 7.3, "color": "#d1d4dc"},
 "encoding": {
  "x": {"datum": 43.0, "type": "quantitative", "scale": {"domain": [-14.22, 236.55], "nice": false, "zero": false, "padding": 0}, "axis": null},
  "y": {"datum": 0.12194, "type": "quantitative", "scale": {"domain": [0.077956, 0.12668], "nice": false, "zero": false}}
 }},
{"data": {"values": [{}]}, "mark": {"type": "text", "text": "0.0984", "align": "left", "baseline": "middle", "fontSize": 7.3, "color": "#14a383"},
 "encoding": {
  "x": {"datum": 43.97, "type": "quantitative", "scale": {"domain": [-14.22, 236.55], "nice": false, "zero": false, "padding": 0}, "axis": null},
  "y": {"datum": 0.12194, "type": "quantitative", "scale": {"domain": [0.077956, 0.12668], "nice": false, "zero": false}}
 }},
{"data": {"values": [{}]}, "mark": {"type": "text", "text": "C", "align": "left", "baseline": "middle", "fontSize": 7.3, "color": "#d1d4dc"},
 "encoding": {
  "x": {"datum": 52.06, "type": "quantitative", "scale": {"domain": [-14.22, 236.55], "nice": false, "zero": false, "padding": 0}, "axis": null},
  "y": {"datum": 0.12194, "type": "quantitative", "scale": {"domain": [0.077956, 0.12668], "nice": false, "zero": false}}
 }},
{"data": {"values": [{}]}, "mark": {"type": "text", "text": "0.0995", "align": "left", "baseline": "middle", "fontSize": 7.3, "color": "#14a383"},
 "encoding": {
  "x": {"datum": 53.25, "type": "quantitative", "scale": {"domain": [-14.22, 236.55], "nice": false, "zero": false, "padding": 0}, "axis": null},
  "y": {"datum": 0.12194, "type": "quantitative", "scale": {"domain": [0.077956, 0.12668], "nice": false, "zero": false}}
 }},
{"data": {"values": [{}]}, "mark": {"type": "text", "text": "+0.0007 (+0.71%)", "align": "left", "baseline": "middle", "fontSize": 7.3, "color": "#14a383"},
 "encoding": {
  "x": {"datum": 60.8, "type": "quantitative", "scale": {"domain": [-14.22, 236.55], "nice": false, "zero": false, "padding": 0}, "axis": null},
  "y": {"datum": 0.12194, "type": "quantitative", "scale": {"domain": [0.077956, 0.12668], "nice": false, "zero": false}}
 }},
{"data": {"values": [{}]}, "mark": {"type": "text", "text": "MA (30, close)", "align": "left", "baseline": "middle", "fontSize": 7.5, "color": "#d1d4dc"},
 "encoding": {
  "x": {"datum": -10.99, "type": "quantitative", "scale": {"domain": [-14.22, 236.55], "nice": false, "zero": false, "padding": 0}, "axis": null},
  "y": {"datum": 0.11987, "type": "quantitative", "scale": {"domain": [0.077956, 0.12668], "nice": false, "zero": false}}
 }},
{"data": {"values": [{}]}, "mark": {"type": "text", "text": "0.1005", "align": "left", "baseline": "middle", "fontSize": 7.3, "color": "#2f7be8"},
 "encoding": {
  "x": {"datum": 3.45, "type": "quantitative", "scale": {"domain": [-14.22, 236.55], "nice": false, "zero": false, "padding": 0}, "axis": null},
  "y": {"datum": 0.11987, "type": "quantitative", "scale": {"domain": [0.077956, 0.12668], "nice": false, "zero": false}}
 }}
]
},
{
"width": 908, "height": 180,
"layer": [
{"data": {"name": "rsi"}, "mark": {"type": "line", "color": "#7048d0", "strokeWidth": 1},
 "encoding": {
  "x": {"field": "t", "type": "quantitative", "scale": {"domain": [-14.22, 236.55], "nice": false, "zero": false, "padding": 0},
        "axis": {"orient": "bottom", "offset": -57, "values": [-12, 0, 12, 24, 36, 48, 60, 72, 84, 96, 108, 120, 132, 144, 156, 168, 180, 192, 204, 216],
                 "labelExpr": "datum.value < 0 ? ':00' : datum.value % 24 != 0 ? '12:00' : datum.value == 192 ? 'Sep' : datum.value == 216 ? '2' : '' + (24 + datum.value / 24)",
                 "labelFontWeight": {"condition": {"test": "datum.value == 192", "value": "bold"}, "value": "normal"},
                 "domain": false, "ticks": false, "grid": false, "labelPadding": 5, "labelFontSize": 7.2, "labelColor": "#c3c6cd", "labelFont": "Roboto", "labelFlush": false, "labelOverlap": false, "title": null, "zindex": 1}},
  "y": {"field": "v", "type": "quantitative", "scale": {"domain": [-19.56, 92.94], "nice": false, "zero": false},
        "axis": {"orient": "right", "offset": -48, "values": [20, 40, 80], "format": ".2f", "domain": false, "ticks": false, "grid": false, "labelPadding": 7.5, "labelColor": "#c3c6cd", "labelFontSize": 7.5, "labelFont": "Roboto", "title": null, "labelOverlap": false, "zindex": 1}}
 }},
{"data": {"values": [{"b": 70}, {"b": 50}, {"b": 30}]}, "mark": {"type": "rule", "color": "#787b86", "strokeDash": [3, 3], "strokeWidth": 1, "opacity": 0.8},
 "encoding": {
  "x": {"datum": -13.5, "type": "quantitative", "scale": {"domain": [-14.22, 236.55], "nice": false, "zero": false, "padding": 0}},
  "x2": {"datum": 224.0},
  "y": {"field": "b", "type": "quantitative", "scale": {"domain": [-19.56, 92.94], "nice": false, "zero": false}}
 }},
{"data": {"name": "rsima"}, "mark": {"type": "line", "color": "#d4ac0d", "strokeWidth": 1.4, "interpolate": "monotone"},
 "encoding": {
  "x": {"field": "t", "type": "quantitative", "scale": {"domain": [-14.22, 236.55], "nice": false, "zero": false, "padding": 0}},
  "y": {"field": "v", "type": "quantitative", "scale": {"domain": [-19.56, 92.94], "nice": false, "zero": false}}
 }},
{"data": {"values": [{}]}, "mark": {"type": "rect", "color": "#f5e614"},
 "encoding": {
  "x": {"datum": 224.3, "type": "quantitative", "scale": {"domain": [-14.22, 236.55], "nice": false, "zero": false, "padding": 0}},
  "x2": {"datum": 231.9},
  "y": {"datum": 60.6, "type": "quantitative", "scale": {"domain": [-19.56, 92.94], "nice": false, "zero": false}},
  "y2": {"datum": 54.4}
 }},
{"data": {"values": [{}]}, "mark": {"type": "rect", "color": "#7e57c2"},
 "encoding": {
  "x": {"datum": 224.3, "type": "quantitative", "scale": {"domain": [-14.22, 236.55], "nice": false, "zero": false, "padding": 0}},
  "x2": {"datum": 231.9},
  "y": {"datum": 50.6, "type": "quantitative", "scale": {"domain": [-19.56, 92.94], "nice": false, "zero": false}},
  "y2": {"datum": 44.6}
 }},
{"data": {"values": [{}]}, "mark": {"type": "text", "text": "57.69", "align": "center", "baseline": "middle", "fontSize": 7.5, "color": "#000000"},
 "encoding": {
  "x": {"datum": 228.1, "type": "quantitative", "scale": {"domain": [-14.22, 236.55], "nice": false, "zero": false, "padding": 0}},
  "y": {"datum": 57.5, "type": "quantitative", "scale": {"domain": [-19.56, 92.94], "nice": false, "zero": false}}
 }},
{"data": {"values": [{}]}, "mark": {"type": "text", "text": "47.78", "align": "center", "baseline": "middle", "fontSize": 7.5, "color": "#ffffff"},
 "encoding": {
  "x": {"datum": 228.1, "type": "quantitative", "scale": {"domain": [-14.22, 236.55], "nice": false, "zero": false, "padding": 0}},
  "y": {"datum": 47.6, "type": "quantitative", "scale": {"domain": [-19.56, 92.94], "nice": false, "zero": false}}
 }},
{"data": {"values": [{}]}, "mark": {"type": "text", "text": "RSI (14, close)", "align": "left", "baseline": "middle", "fontSize": 7.5, "color": "#d1d4dc"},
 "encoding": {
  "x": {"datum": -10.99, "type": "quantitative", "scale": {"domain": [-14.22, 236.55], "nice": false, "zero": false, "padding": 0}},
  "y": {"datum": 87.94, "type": "quantitative", "scale": {"domain": [-19.56, 92.94], "nice": false, "zero": false}}
 }},
{"data": {"values": [{}]}, "mark": {"type": "text", "text": "47.78", "align": "left", "baseline": "middle", "fontSize": 7.3, "color": "#7e57c2"},
 "encoding": {
  "x": {"datum": 3.73, "type": "quantitative", "scale": {"domain": [-14.22, 236.55], "nice": false, "zero": false, "padding": 0}},
  "y": {"datum": 87.94, "type": "quantitative", "scale": {"domain": [-19.56, 92.94], "nice": false, "zero": false}}
 }},
{"data": {"values": [{}]}, "mark": {"type": "text", "text": "57.69", "align": "left", "baseline": "middle", "fontSize": 7.3, "color": "#e8d20c"},
 "encoding": {
  "x": {"datum": 9.5, "type": "quantitative", "scale": {"domain": [-14.22, 236.55], "nice": false, "zero": false, "padding": 0}},
  "y": {"datum": 87.94, "type": "quantitative", "scale": {"domain": [-19.56, 92.94], "nice": false, "zero": false}}
 }},
{"data": {"values": [{}]}, "mark": {"type": "point", "shape": "M-1,-0.6 H-0.2 V0.6 H-0.55 V-0.25 H-1 Z M-0.14,-0.43 L-0.09,-0.55 L0.03,-0.6 L0.15,-0.55 L0.2,-0.43 L0.15,-0.31 L0.03,-0.26 L-0.09,-0.31 Z M0.25,-0.6 H1 L0.4,0.6 H-0.05 L0.45,-0.25 H0.25 Z", "size": 400, "filled": true, "color": "#ffffff", "opacity": 1, "strokeWidth": 0},
 "encoding": {
  "x": {"datum": -9.8, "type": "quantitative", "scale": {"domain": [-14.22, 236.55], "nice": false, "zero": false, "padding": 0}},
  "y": {"datum": -7.69, "type": "quantitative", "scale": {"domain": [-19.56, 92.94], "nice": false, "zero": false}}
 }},
{"data": {"values": [{}]}, "mark": {"type": "text", "text": "TradingView", "align": "left", "baseline": "middle", "fontSize": 13.5, "fontWeight": 600, "color": "#ffffff"},
 "encoding": {
  "x": {"datum": -5.94, "type": "quantitative", "scale": {"domain": [-14.22, 236.55], "nice": false, "zero": false, "padding": 0}},
  "y": {"datum": -7.69, "type": "quantitative", "scale": {"domain": [-19.56, 92.94], "nice": false, "zero": false}}
 }}
]
}
]
}
